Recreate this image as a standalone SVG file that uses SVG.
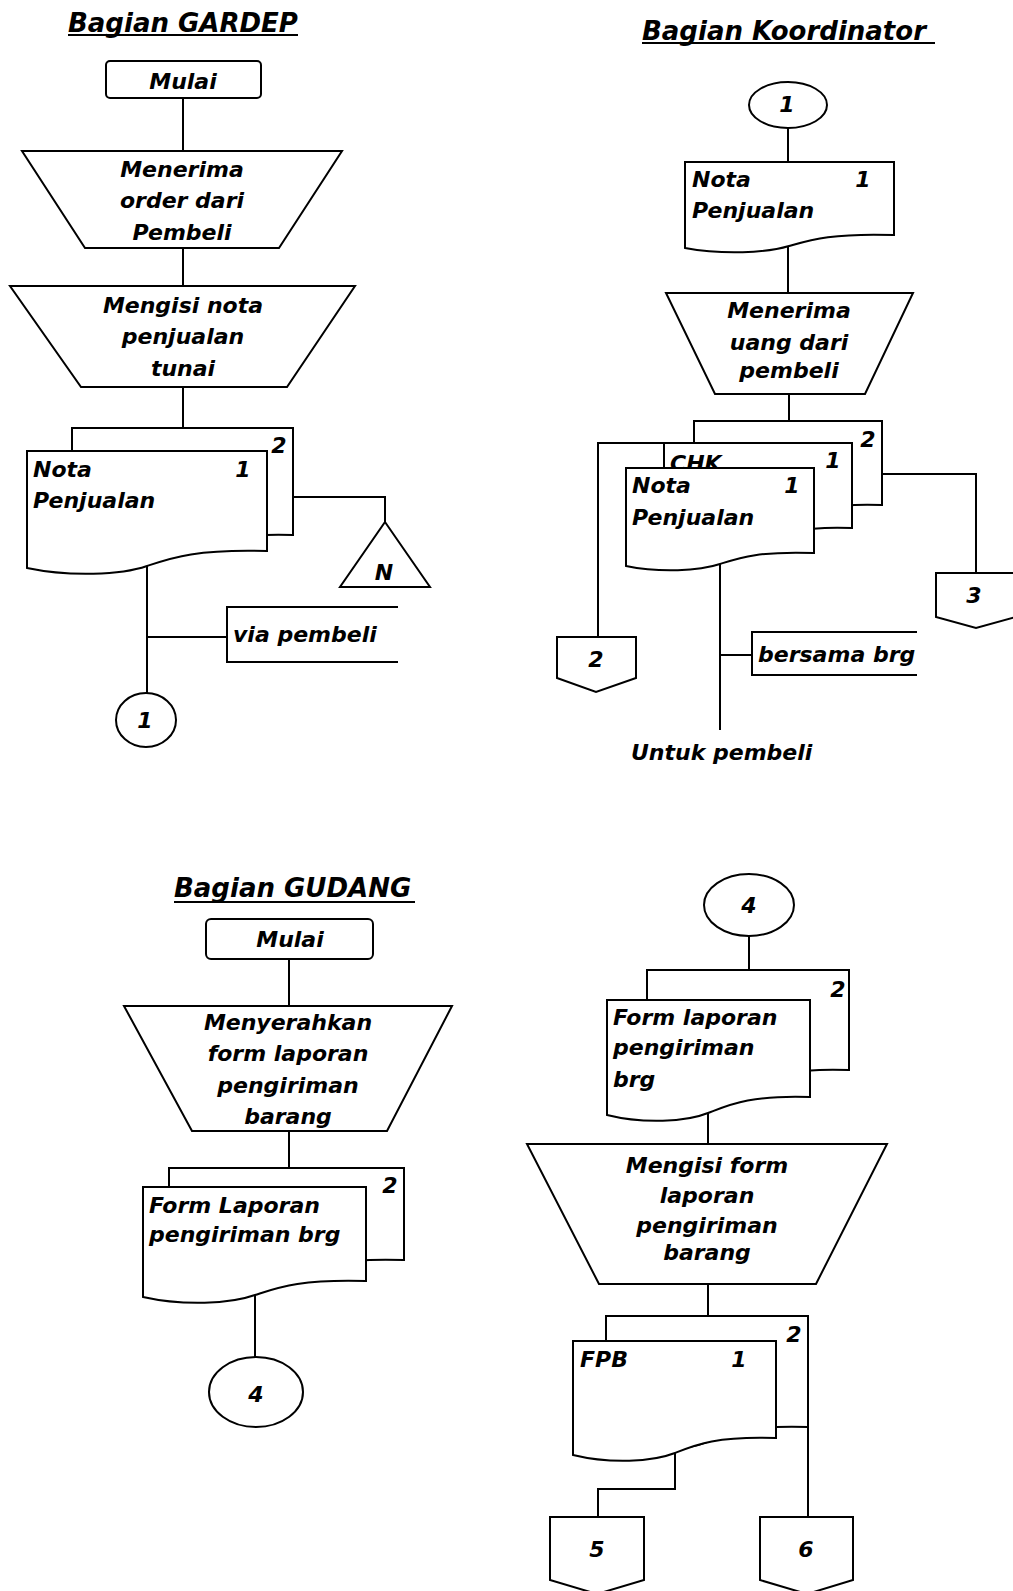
<svg xmlns="http://www.w3.org/2000/svg" width="1013" height="1591" viewBox="0 0 1013 1591">
<style>
text{font-family:"DejaVu Sans","Liberation Sans",sans-serif;font-weight:bold;font-style:italic;font-size:22px;fill:#000}
.t{font-size:26px}
.c{text-anchor:middle}
.s{fill:#fff;stroke:#000;stroke-width:2}
.l{fill:none;stroke:#000;stroke-width:2}
</style>
<rect width="1013" height="1591" fill="#fff"/>
<g id="titles">
<text class="t" x="68" y="32">Bagian GARDEP</text>
<line class="l" x1="68" y1="35" x2="298" y2="35"/>
<text class="t" x="642" y="40">Bagian Koordinator</text>
<line class="l" x1="642" y1="43" x2="935" y2="43"/>
<text class="t" x="174" y="897">Bagian GUDANG</text>
<line class="l" x1="174" y1="902" x2="415" y2="902"/>
</g>
<g id="connectors" class="l">
<path d="M183,98 V151 M183,248 V286 M183,387 V428 M293,497 H385 V522 M147,560 V693 M147,637 H227"/>
<path d="M788,128 V162 M788,244 V293 M789,394 V421 M664,443 H598 V637 M882,474 H976 V573 M720,562 V730 M720,655 H752"/>
<path d="M289,959 V1006 M289,1131 V1168 M255,1295 V1357"/>
<path d="M749,936 V970 M708,1110 V1144 M708,1284 V1316 M675,1450 V1489 H598 V1517 M808,1427 V1517"/>
</g>
<g id="gardep-mulai"><rect class="s" x="106" y="61" width="155" height="37" rx="4"/><text class="c" x="183" y="89">Mulai</text></g>
<g id="gardep-menerima"><polygon class="s" points="22,151 342,151 279,248 85,248"/><text class="c" x="182" y="177">Menerima</text><text class="c" x="182" y="208">order dari</text><text class="c" x="182" y="240">Pembeli</text></g>
<g id="gardep-mengisi"><polygon class="s" points="10,286 355,286 287,387 81,387"/><text class="c" x="183" y="313">Mengisi nota</text><text class="c" x="183" y="344">penjualan</text><text class="c" x="183" y="376">tunai</text></g>
<g id="gardep-nota">
<path class="s" d="M72,428 H293 V535 C238,533 215,542 183,550 C158,559 112,561 72,552 Z"/>
<text class="c" x="279" y="453">2</text>
<path class="s" d="M27,451 H267 V551 C195,549 171,558 147,566 C121,575 70,577 27,568 Z"/>
<text x="33" y="477">Nota</text><text class="c" x="243" y="477">1</text><text x="33" y="508">Penjualan</text>
</g>
<g id="gardep-arsip"><polygon class="s" points="385,522 430,587 340,587"/><text class="c" x="384" y="580">N</text></g>
<g id="gardep-via"><path class="l" d="M398,607 H227 V662 H398"/><text x="233" y="642">via pembeli</text></g>
<g id="gardep-c1"><ellipse class="s" cx="146" cy="720" rx="30" ry="27"/><text class="c" x="145" y="728">1</text></g>

<g id="koor-c1"><ellipse class="s" cx="788" cy="105" rx="39" ry="23"/><text class="c" x="787" y="112">1</text></g>
<g id="koor-nota"><path class="s" d="M685,162 H894 V235 C831,233 810,240 789,246 C766,253 723,255 685,248 Z"/><text x="692" y="187">Nota</text><text class="c" x="863" y="187">1</text><text x="692" y="218">Penjualan</text></g>
<g id="koor-menerima"><polygon class="s" points="666,293 913,293 865,394 715,394"/><text class="c" x="789" y="318">Menerima</text><text class="c" x="789" y="350">uang dari</text><text class="c" x="789" y="378">pembeli</text></g>
<g id="koor-docs">
<path class="s" d="M694,421 H882 V505 C826,503 807,512 788,520 C767,529 728,531 694,522 Z"/>
<text class="c" x="868" y="447">2</text>
<path class="s" d="M664,443 H852 V528 C796,526 777,535 758,543 C737,552 698,554 664,545 Z"/>
<text x="670" y="471">CHK</text><text class="c" x="833" y="468">1</text>
<path class="s" d="M626,468 H814 V553 C758,551 739,558 720,564 C699,571 660,573 626,566 Z"/>
<text x="632" y="493">Nota</text><text class="c" x="792" y="493">1</text><text x="632" y="525">Penjualan</text>
</g>
<g id="koor-off2"><polygon class="s" points="557,637 636,637 636,678 596,692 557,678"/><text class="c" x="596" y="667">2</text></g>
<g id="koor-off3"><polygon class="s" points="936,573 1016,573 1016,617 976,628 936,617"/><text class="c" x="974" y="603">3</text></g>
<g id="koor-bersama"><path class="l" d="M917,632 H752 V675 H917"/><text x="758" y="662">bersama brg</text></g>
<g id="koor-untuk"><text x="631" y="760">Untuk pembeli</text></g>

<g id="gudang-mulai"><rect class="s" x="206" y="919" width="167" height="40" rx="5"/><text class="c" x="290" y="947">Mulai</text></g>
<g id="gudang-menyerahkan"><polygon class="s" points="124,1006 452,1006 387,1131 192,1131"/><text class="c" x="288" y="1030">Menyerahkan</text><text class="c" x="288" y="1061">form laporan</text><text class="c" x="288" y="1093">pengiriman</text><text class="c" x="288" y="1124">barang</text></g>
<g id="gudang-form">
<path class="s" d="M169,1168 H404 V1260 C334,1258 310,1267 287,1275 C261,1284 211,1286 169,1277 Z"/>
<text class="c" x="390" y="1193">2</text>
<path class="s" d="M143,1187 H366 V1281 C299,1279 277,1288 255,1295 C230,1304 183,1306 143,1297 Z"/>
<text x="149" y="1213">Form Laporan</text><text x="149" y="1242">pengiriman brg</text>
</g>
<g id="gudang-c4"><ellipse class="s" cx="256" cy="1392" rx="47" ry="35"/><text class="c" x="256" y="1402">4</text></g>

<g id="k2-c4"><ellipse class="s" cx="749" cy="905" rx="45" ry="31"/><text class="c" x="749" y="913">4</text></g>
<g id="k2-form">
<path class="s" d="M647,970 H849 V1070 C788,1068 768,1077 748,1085 C726,1094 683,1096 647,1087 Z"/>
<text class="c" x="838" y="997">2</text>
<path class="s" d="M607,1000 H810 V1097 C749,1095 729,1105 708,1113 C686,1122 643,1124 607,1115 Z"/>
<text x="613" y="1025">Form laporan</text><text x="613" y="1055">pengiriman</text><text x="613" y="1087">brg</text>
</g>
<g id="k2-mengisi"><polygon class="s" points="527,1144 887,1144 816,1284 599,1284"/><text class="c" x="707" y="1173">Mengisi form</text><text class="c" x="707" y="1203">laporan</text><text class="c" x="707" y="1233">pengiriman</text><text class="c" x="707" y="1260">barang</text></g>
<g id="k2-fpb">
<path class="s" d="M606,1316 H808 V1427 C747,1425 727,1434 707,1442 C685,1451 642,1453 606,1444 Z"/>
<text class="c" x="794" y="1342">2</text>
<path class="s" d="M573,1341 H776 V1438 C715,1436 695,1445 675,1453 C652,1462 610,1464 573,1455 Z"/>
<text x="580" y="1367">FPB</text><text class="c" x="739" y="1367">1</text>
</g>
<g id="k2-off5"><polygon class="s" points="550,1517 644,1517 644,1580 597,1594 550,1580"/><text class="c" x="597" y="1557">5</text></g>
<g id="k2-off6"><polygon class="s" points="760,1517 853,1517 853,1580 807,1594 760,1580"/><text class="c" x="806" y="1557">6</text></g>
</svg>
